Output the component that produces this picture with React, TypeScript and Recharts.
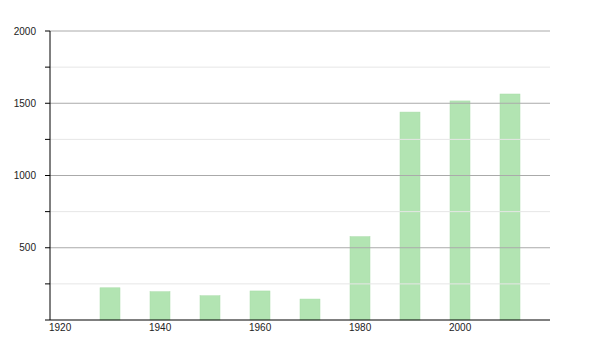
import { ComposedChart, Bar, XAxis, YAxis, ReferenceLine } from 'recharts';

const years = [1930, 1940, 1950, 1960, 1970, 1980, 1990, 2000, 2010];
const population = [223, 196, 168, 201, 145, 577, 1439, 1516, 1564];
const xTicks = [1920, 1940, 1960, 1980, 2000];
const majorLines = [500, 1000, 1500, 2000];
const minorLines = [250, 750, 1250, 1750];

const chartData = years.map((year, i) => ({ year, population: population[i] }));

// bars start at their year instead of being centred on it
const ShiftedBar = (props: any) => {
  const { x, y, width, height } = props;
  if (!height || height <= 0) return null;
  return <rect x={x + width / 2} y={y} width={width} height={height} fill="#b2e4b2" stroke="#a9dca9" strokeWidth={0.5} />;
};

const XTick = (props: any) => {
  const { x, y, payload } = props;
  return (
    <text x={x - 1} y={y} dy="0.71em" textAnchor="start" fontSize={10} fill="#222" fontFamily="'Liberation Sans', Arial, sans-serif">
      {payload.value}
    </text>
  );
};

export default function App() {
  return (
    <div style={{ position: 'absolute', left: 0, top: 0, background: '#fff' }}>
      <ComposedChart width={600} height={350} data={chartData} margin={{ top: 31, right: 50, bottom: 10, left: 0 }}>
        {minorLines.map(v => (
          <ReferenceLine key={'m' + v} y={v} stroke="#e6e6e6" strokeWidth={1} />
        ))}
        {majorLines.map(v => (
          <ReferenceLine key={'M' + v} y={v} stroke="#aaaaaa" strokeWidth={1} />
        ))}
        <XAxis
          dataKey="year"
          type="number"
          domain={[1920, 2020]}
          ticks={xTicks}
          allowDataOverflow
          tickLine={false}
          tickSize={0}
          tickMargin={4}
          height={20}
          axisLine={{ stroke: '#000' }}
          tick={<XTick />}
        />
        <YAxis
          type="number"
          domain={[0, 2000]}
          ticks={[0, 250, 500, 750, 1000, 1250, 1500, 1750, 2000]}
          tickFormatter={(v: number) => (v % 500 === 0 && v !== 0 ? String(v) : '')}
          width={50}
          tickSize={5}
          tickMargin={9}
          axisLine={{ stroke: '#000' }}
          tickLine={{ stroke: '#000' }}
          tick={{ fontSize: 10, fill: '#222', fontFamily: "'Liberation Sans', Arial, sans-serif" }}
        />
        <Bar dataKey="population" barSize={20} shape={<ShiftedBar />} isAnimationActive={false} />
      </ComposedChart>
    </div>
  );
}
